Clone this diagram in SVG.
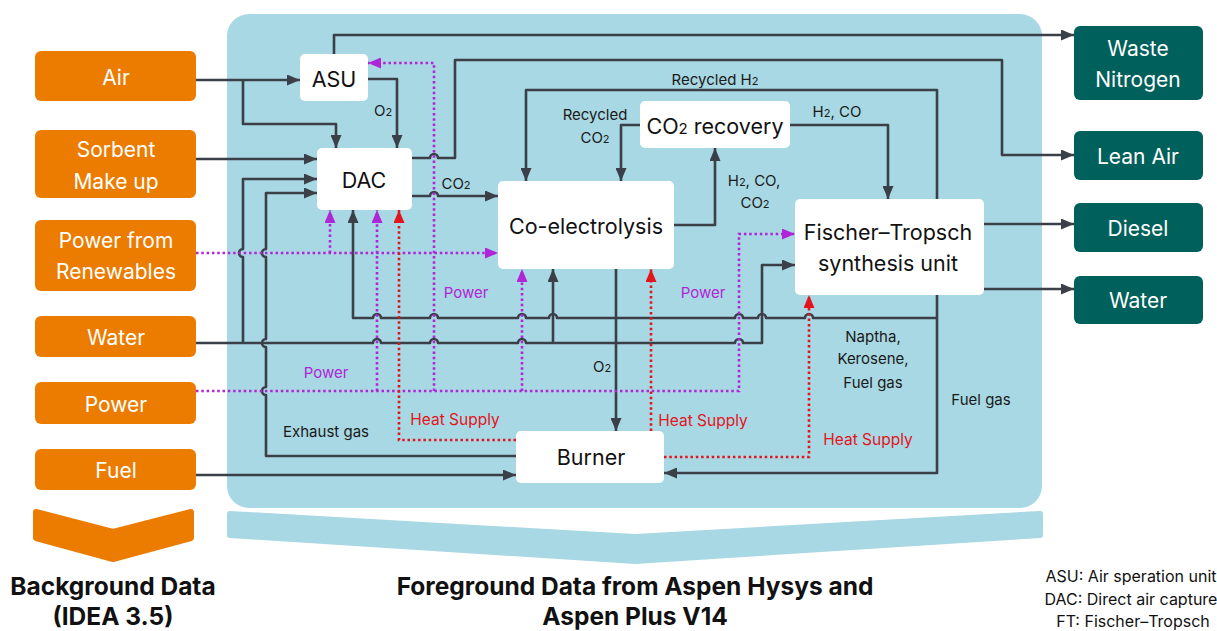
<svg xmlns="http://www.w3.org/2000/svg" width="1217" height="631" viewBox="0 0 1217 631">
<style>
text{font-family:Inter,"Noto Sans","Liberation Sans",sans-serif;text-anchor:middle}
.in{fill:#ec7c00}
.out{fill:#00605b}
.nd{fill:#ffffff}
.wt{fill:#ffffff;font-size:21px}
.nt{fill:#111111;font-size:21.5px}
.lb{fill:#1a1a1a;font-size:15px}
.pl{fill:#b025d8;font-size:15px}
.rl{fill:#e3141c;font-size:15.5px}
.s{stroke:#3b3f48;stroke-width:2.6;fill:none;stroke-linejoin:round}
.p{stroke:#b025d8;stroke-width:2.6;fill:none;stroke-dasharray:2.5 2.8}
.r{stroke:#e3141c;stroke-width:2.6;fill:none;stroke-dasharray:2.5 2.8}
.sub{font-size:11px}
.ttl{fill:#111111;font-size:24.5px;font-weight:700}
.lg{fill:#111111;font-size:16px}
</style>
<defs>
<marker id="ad" markerUnits="userSpaceOnUse" markerWidth="13" markerHeight="11" refX="13" refY="5.5" orient="auto"><path d="M0,0 L13,5.5 L0,11 z" fill="#3b3f48"/></marker>
<marker id="ap" markerUnits="userSpaceOnUse" markerWidth="13" markerHeight="11" refX="13" refY="5.5" orient="auto"><path d="M0,0 L13,5.5 L0,11 z" fill="#b025d8"/></marker>
<marker id="ar" markerUnits="userSpaceOnUse" markerWidth="13" markerHeight="11" refX="13" refY="5.5" orient="auto"><path d="M0,0 L13,5.5 L0,11 z" fill="#e3141c"/></marker>
</defs>

<g id="panel">
<rect x="227" y="14" width="815" height="494" rx="22" fill="#a8d8e3"/>
<polygon points="230,514 635,537 1040,514 1040,535 635,561 230,535" fill="#a8d8e3" stroke="#a8d8e3" stroke-width="6" stroke-linejoin="round"/>
<polygon points="36,512 113,532 191,512 191,538 113,559 36,538" fill="#ec7c00" stroke="#ec7c00" stroke-width="6" stroke-linejoin="round"/>
</g>

<g id="connectors">
<path class="s" d="M196,80 H300" marker-end="url(#ad)"/>
<path class="s" d="M243,80 V124 H336 V148" marker-end="url(#ad)"/>
<path class="s" d="M368,79 H397 V148" marker-end="url(#ad)"/>
<path class="s" d="M196,159 H317" marker-end="url(#ad)"/>
<path class="s" d="M243,343 V257 A4,4 0 0 1 243,249 V179 H317" marker-end="url(#ad)"/>
<path class="s" d="M516,456 H266 V395 A4,4 0 0 1 266,387 V347 A4,4 0 0 1 266,339 V257 A4,4 0 0 1 266,249 V193 H317" marker-end="url(#ad)"/>
<path class="s" d="M196,343 H373 A4,4 0 0 1 381,343 H430 A4,4 0 0 1 438,343 H518 A4,4 0 0 1 526,343 H735 A4,4 0 0 1 743,343 H762 V265 H795" marker-end="url(#ad)"/>
<path class="s" d="M553,343 V269" marker-end="url(#ad)"/>
<path class="s" d="M937,318 H813 A4,4 0 0 0 805,318 H766 A4,4 0 0 0 758,318 H743 A4,4 0 0 0 735,318 H557 A4,4 0 0 0 549,318 H526 A4,4 0 0 0 518,318 H438 A4,4 0 0 0 430,318 H381 A4,4 0 0 0 373,318 H353 V210" marker-end="url(#ad)"/>
<path class="s" d="M334,54 V35 H1074" marker-end="url(#ad)"/>
<path class="s" d="M412,158 H430 A4,4 0 0 1 438,158 H455 V60 H1002 V155 H1074" marker-end="url(#ad)"/>
<path class="s" d="M412,196 H430 A4,4 0 0 1 438,196 H498" marker-end="url(#ad)"/>
<path class="s" d="M674,225 H715 V148" marker-end="url(#ad)"/>
<path class="s" d="M640,125 H621 V181" marker-end="url(#ad)"/>
<path class="s" d="M790,125 H888 V199" marker-end="url(#ad)"/>
<path class="s" d="M937,199 V90 H526 V181" marker-end="url(#ad)"/>
<path class="s" d="M937,295 V473 H664" marker-end="url(#ad)"/>
<path class="s" d="M616,269 V431" marker-end="url(#ad)"/>
<path class="s" d="M196,475 H516" marker-end="url(#ad)"/>
<path class="s" d="M984,224 H1074" marker-end="url(#ad)"/>
<path class="s" d="M984,289 H1074" marker-end="url(#ad)"/>
<path class="p" d="M196,253 H498" marker-end="url(#ap)"/>
<path class="p" d="M330,253 V210" marker-end="url(#ap)"/>
<path class="p" d="M196,391 H739 V234 H795" marker-end="url(#ap)"/>
<path class="p" d="M377,391 V210" marker-end="url(#ap)"/>
<path class="p" d="M434,391 V63 H368" marker-end="url(#ap)"/>
<path class="p" d="M522,391 V269" marker-end="url(#ap)"/>
<path class="r" d="M516,440 H399 V210" marker-end="url(#ar)"/>
<path class="r" d="M651,431 V269" marker-end="url(#ar)"/>
<path class="r" d="M664,457 H809 V295" marker-end="url(#ar)"/>
</g>

<g id="labels">
<text class="lb" x="383" y="115.5">O<tspan class="sub">2</tspan></text>
<text class="lb" x="456" y="188.5">CO<tspan class="sub">2</tspan></text>
<text class="lb" x="715" y="84.5">Recycled H<tspan class="sub">2</tspan></text>
<text class="lb" x="595" y="119.5">Recycled</text>
<text class="lb" x="595" y="142.5">CO<tspan class="sub">2</tspan></text>
<text class="lb" x="837" y="116.5">H<tspan class="sub">2</tspan>, CO</text>
<text class="lb" x="754" y="185.5">H<tspan class="sub">2</tspan>, CO,</text>
<text class="lb" x="755" y="207.5">CO<tspan class="sub">2</tspan></text>
<text class="pl" x="466" y="297.5">Power</text>
<text class="pl" x="703" y="297.5">Power</text>
<text class="pl" x="326" y="377.5">Power</text>
<text class="lb" x="602" y="371.5">O<tspan class="sub">2</tspan></text>
<text class="lb" x="873" y="341.5">Naptha,</text>
<text class="lb" x="873" y="363.5">Kerosene,</text>
<text class="lb" x="873" y="387.5">Fuel gas</text>
<text class="lb" x="981" y="404.5">Fuel gas</text>
<text class="lb" x="326" y="436.5">Exhaust gas</text>
<text class="rl" x="455" y="424.5">Heat Supply</text>
<text class="rl" x="703" y="425.5">Heat Supply</text>
<text class="rl" x="868" y="444.5">Heat Supply</text>
</g>

<g id="air"><rect class="in" x="35" y="51" width="161" height="50" rx="6"/><text class="wt" x="116" y="84.5">Air</text></g>
<g id="sorbent"><rect class="in" x="35" y="130" width="161" height="68" rx="6"/><text class="wt" x="116" y="156.5">Sorbent</text><text class="wt" x="116" y="188.5">Make up</text></g>
<g id="renewables"><rect class="in" x="35" y="220" width="161" height="71" rx="6"/><text class="wt" x="116" y="247.5">Power from</text><text class="wt" x="116" y="278.5">Renewables</text></g>
<g id="water-in"><rect class="in" x="35" y="316" width="161" height="41" rx="6"/><text class="wt" x="116" y="344.5">Water</text></g>
<g id="power"><rect class="in" x="35" y="382" width="161" height="42" rx="6"/><text class="wt" x="116" y="411.5">Power</text></g>
<g id="fuel"><rect class="in" x="35" y="449" width="161" height="41" rx="6"/><text class="wt" x="116" y="477.5">Fuel</text></g>

<g id="waste-nitrogen"><rect class="out" x="1074" y="26" width="129" height="74" rx="6"/><text class="wt" x="1138" y="55.5">Waste</text><text class="wt" x="1138" y="86.5">Nitrogen</text></g>
<g id="lean-air"><rect class="out" x="1074" y="131" width="129" height="49" rx="6"/><text class="wt" x="1138" y="163.5">Lean Air</text></g>
<g id="diesel"><rect class="out" x="1074" y="203" width="129" height="49" rx="6"/><text class="wt" x="1138" y="235.5">Diesel</text></g>
<g id="water-out"><rect class="out" x="1074" y="276" width="129" height="48" rx="6"/><text class="wt" x="1138" y="307.5">Water</text></g>

<g id="asu"><rect class="nd" x="300" y="54" width="68" height="47" rx="5"/><text class="nt" x="334" y="86.5">ASU</text></g>
<g id="dac"><rect class="nd" x="317" y="148" width="95" height="62" rx="5"/><text class="nt" x="364" y="187.5">DAC</text></g>
<g id="co2-recovery"><rect class="nd" x="640" y="101" width="150" height="47" rx="5"/><text class="nt" x="715" y="133.5">CO<tspan font-size="15px">2</tspan> recovery</text></g>
<g id="co-electrolysis"><rect class="nd" x="498" y="181" width="176" height="88" rx="5"/><text class="nt" x="586" y="233.5">Co-electrolysis</text></g>
<g id="ft"><rect class="nd" x="795" y="199" width="189" height="96" rx="5"/><text class="nt" x="888" y="240">Fischer–Tropsch</text><text class="nt" x="888" y="271">synthesis unit</text></g>
<g id="burner"><rect class="nd" x="516" y="431" width="148" height="52" rx="5"/><text class="nt" x="591" y="464.5">Burner</text></g>

<g id="titles">
<text class="ttl" x="113" y="595">Background Data</text>
<text class="ttl" x="113" y="625">(IDEA 3.5)</text>
<text class="ttl" x="635" y="595">Foreground Data from Aspen Hysys and</text>
<text class="ttl" x="635" y="625">Aspen Plus V14</text>
<text class="lg" x="1131" y="582">ASU: Air speration unit</text>
<text class="lg" x="1131" y="605">DAC: Direct air capture</text>
<text class="lg" x="1133" y="627">FT: Fischer–Tropsch</text>
</g>
</svg>
